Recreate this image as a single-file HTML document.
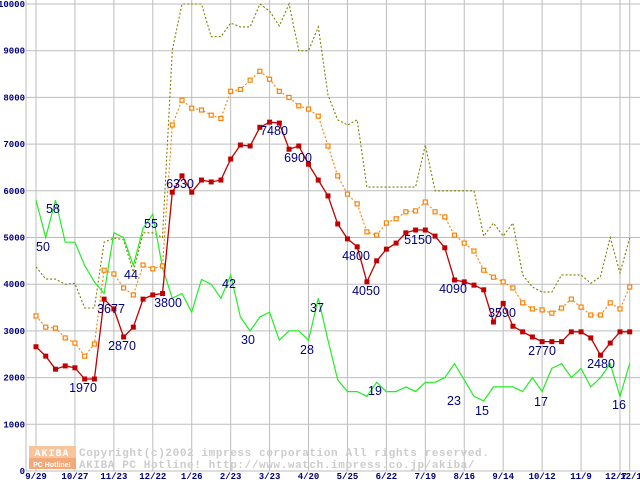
<!DOCTYPE html>
<html><head><meta charset="utf-8"><style>
html,body{margin:0;padding:0;background:#fff;}
svg{display:block;font-family:"Liberation Sans",sans-serif;}
.yt{font:bold 9px "Liberation Mono",monospace;fill:#000080;}
.xt{font:bold 9px "Liberation Mono",monospace;fill:#000080;}
.lb{font:12.5px "Liberation Sans",sans-serif;fill:#000080;}
.cp{font:bold 11px "Liberation Mono",monospace;fill:#cccccc;letter-spacing:0.6px;}
</style></head><body>
<svg id="chart" width="640" height="480" viewBox="0 0 640 480" xmlns="http://www.w3.org/2000/svg">
<g id="grid"></g>
<g id="wm">
<rect x="29" y="446" width="47" height="12" fill="#f8c49c"/>
<rect x="29" y="458" width="47" height="11" fill="#f4a878"/>
<text x="52" y="456" text-anchor="middle" style="font:bold 10px 'Liberation Mono',monospace;fill:#fff;letter-spacing:1px">AKIBA</text>
<text x="52" y="467" text-anchor="middle" style="font:bold 7px 'Liberation Sans',sans-serif;fill:#fff">PC Hotline!</text>
<text class="cp" x="79" y="456">Copyright(c)2002 impress corporation All rights reserved.</text>
<text class="cp" x="79" y="468">AKIBA PC Hotline!  http://www.watch.impress.co.jp/akiba/</text>
</g>
<g id="series"></g>
<g id="labels"></g>
</svg>
<script>
const xLabels=["9/29","10/27","11/23","12/22","1/26","2/23","3/23","4/20","5/25","6/22","7/19","8/16","9/14","10/12","11/9","12/7","12/14"];
const xLabelIdx=[0,4,8,12,16,20,24,28,32,36,40,44,48,52,56,60,61];
const yTicks=[0,1000,2000,3000,4000,5000,6000,7000,8000,9000,10000];
const priceMin=[2660,2460,2180,2250,2210,1970,1970,3680,3470,2870,3080,3680,3770,3800,5970,6320,5970,6230,6190,6230,6680,6980,6960,7360,7470,7450,6890,6960,6570,6230,5890,5290,4970,4800,4050,4500,4750,4880,5100,5160,5160,5030,4780,4090,4050,3980,3880,3190,3590,3100,2980,2870,2770,2770,2770,2980,2980,2850,2480,2740,2980,2980];
const priceAvg=[3320,3080,3060,2850,2740,2460,2720,4300,4220,3920,3770,4410,4330,4390,7410,7940,7770,7730,7620,7550,8130,8170,8370,8560,8390,8130,8000,7820,7750,7600,6960,6320,5930,5720,5120,5050,5310,5400,5550,5570,5760,5550,5440,5050,4880,4710,4300,4150,4050,3920,3600,3470,3450,3380,3490,3680,3510,3340,3340,3600,3470,3940];
const priceMax=[4370,4110,4110,4000,4020,3490,3490,4900,4990,4950,4260,5100,5100,5000,9010,10000,10000,10000,9300,9300,9590,9510,9510,10000,9850,9530,10000,9000,9000,9510,8050,7520,7410,7520,6080,6080,6080,6080,6080,6080,6980,6000,6000,6000,6000,6000,5030,5310,5030,5310,4200,3940,3830,3830,4200,4200,4200,4020,4160,5000,4240,4990];
const shopCount=[58,50,58,49,49,44,40.5,38,51,50,44,52,55,43.5,37,38,34,41,40,37,42,33,30,33,34,28,30,30,28,37,28,19.5,17,17,16,19,17,17,18,17,19,19,20,23,19.5,16,15,18,18,18,17,20,17,22,23,20,22,18,20,23,16,23];
const priceLabels=[[5,"1970"],[7,"3677"],[9,"2870"],[13,"3800"],[15,"6330"],[24,"7480"],[27,"6900"],[33,"4800"],[34,"4050"],[39,"5150"],[43,"4090"],[48,"3590"],[52,"2770"],[58,"2480"]];
const priceLabelPos=[[83,392],[111,313],[122,350],[168,307],[180,188],[274,135],[298,162],[356,260],[366,295],[418,244],[453,293],[502,317],[542,355],[601,368]];
const countLabels=[[1,"50"],[2,"58"],[10,"44"],[12,"55"],[20,"42"],[22,"30"],[28,"28"],[29,"37"],[35,"19"],[43,"23"],[46,"15"],[52,"17"],[60,"16"]];
const countLabelPos=[[43,251],[53,213],[131,279],[151,228],[229,288],[248,344],[307,354],[317,312],[375,395],[454,405],[482,415],[541,406],[619,409]];

const NS="http://www.w3.org/2000/svg";
const X0=36,DX=9.733,Y0=471,YS=0.0467;
function xs(i){return X0+i*DX;}
function ys(v){return Y0-v*YS;}
function mk(tag,attrs,parent){const e=document.createElementNS(NS,tag);for(const k in attrs)e.setAttribute(k,attrs[k]);parent.appendChild(e);return e;}
const grid=document.getElementById('grid'),ser=document.getElementById('series'),lab=document.getElementById('labels');

yTicks.forEach(v=>{
  const l=mk('line',{x1:26,x2:640,y1:ys(v),y2:ys(v),stroke:'#bdbdbd','stroke-width':1},grid);
  
  
  const t=mk('text',{x:25,y:ys(v)+3,'text-anchor':'end',class:'yt'},grid);
  t.textContent=v;
  
  
});
const ax=mk('line',{x1:26,x2:26,y1:0,y2:471,stroke:'#bdbdbd'},grid);


xLabelIdx.forEach((i,k)=>{
  const l=mk('line',{x1:xs(i),x2:xs(i),y1:0,y2:471,stroke:'#bdbdbd'},grid);
  
  
  const t=mk('text',{x:xs(i)+(k==15?-4:k==16?4:0),y:479,'text-anchor':'middle',class:'xt'},grid);
  t.textContent=xLabels[k];
  
  
});
function pts(arr,sc){return arr.map((v,i)=>xs(i).toFixed(1)+','+ys(v*sc).toFixed(1)).join(' ');}
const pMax=mk('polyline',{points:pts(priceMax,1),fill:'none',stroke:'#808000','stroke-width':1.1,'stroke-dasharray':'2,2'},ser);


const pCnt=mk('polyline',{points:pts(shopCount,100),fill:'none',stroke:'#22ee22','stroke-width':1.2},ser);


const pAvg=mk('polyline',{points:pts(priceAvg,1),fill:'none',stroke:'#ff8000','stroke-width':1.1,'stroke-dasharray':'2,2'},ser);


priceAvg.forEach((v,i)=>{
  const r=mk('rect',{x:xs(i)-2,y:ys(v)-2,width:4,height:4,fill:'#fff',stroke:'#ff8000','stroke-width':1.2},ser);
  
  
});
const pMin=mk('polyline',{points:pts(priceMin,1),fill:'none',stroke:'#c00000','stroke-width':1.3},ser);


priceMin.forEach((v,i)=>{
  const r=mk('rect',{x:xs(i)-2.5,y:ys(v)-2.5,width:5,height:5,fill:'#c00000'},ser);
  
  
});
priceLabels.forEach((p,k)=>{
  const t=mk('text',{x:priceLabelPos[k][0],y:priceLabelPos[k][1],'text-anchor':'middle',class:'lb'},lab);
  t.textContent=p[1];
  
  
});
countLabels.forEach((p,k)=>{
  const t=mk('text',{x:countLabelPos[k][0],y:countLabelPos[k][1],'text-anchor':'middle',class:'lb'},lab);
  t.textContent=p[1];
  
  
});
</script>
</body></html>
